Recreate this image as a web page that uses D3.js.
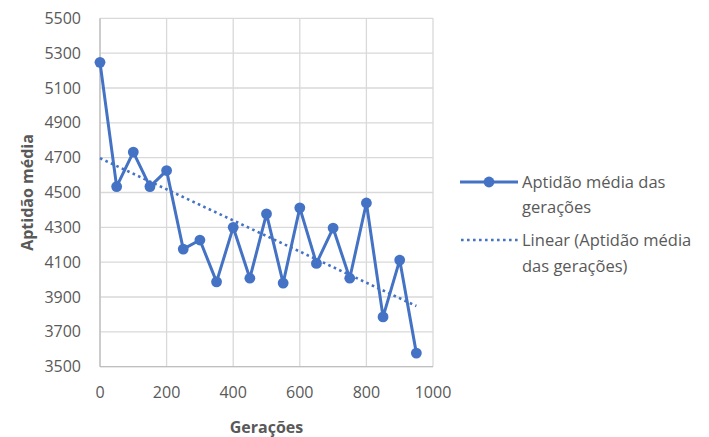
<!DOCTYPE html>
<html><head><meta charset="utf-8">
<script src="https://cdn.jsdelivr.net/npm/d3@7"></script>
<style>
html,body{margin:0;padding:0;background:#fff;}
svg{display:block;font-family:"Open Sans",sans-serif;}
</style></head>
<body>
<svg id="chart" width="709" height="437"></svg>
<script>
const generations = [0,50,100,150,200,250,300,350,400,450,500,550,600,650,700,750,800,850,900,950];
const fitness = [5247,4534,4732,4534,4626,4175,4227,3987,4300,4008,4377,3980,4412,4093,4296,4008,4440,3786,4112,3578];
const xTicks = [0,200,400,600,800,1000];
const yTicks = [3500,3700,3900,4100,4300,4500,4700,4900,5100,5300,5500];
const seriesName = ["Aptidão média das","gerações"];
const trendName = ["Linear (Aptidão média","das gerações)"];
const xTitle = "Gerações";
const yTitle = "Aptidão média";

const svg = d3.select("#chart");
const x = d3.scaleLinear().domain([0,1000]).range([100,433]);
const y = d3.scaleLinear().domain([3500,5500]).range([366.7,18.3]);
const blue = "#4472c4", grid = "#d9d9d9", txt = "#595959";
const dots = "2.6 3.4";

// gridlines
svg.append("g").selectAll("line").data(yTicks).join("line")
  .attr("x1",x(0)).attr("x2",x(1000)).attr("y1",d=>y(d)).attr("y2",d=>y(d))
  .attr("stroke",grid).attr("stroke-width",1.3);
svg.append("g").selectAll("line").data(xTicks).join("line")
  .attr("y1",y(3500)).attr("y2",y(5500)).attr("x1",d=>x(d)).attr("x2",d=>x(d))
  .attr("stroke",grid).attr("stroke-width",1.3);
// axis lines
svg.append("line").attr("x1",x(0)).attr("x2",x(1000)).attr("y1",y(3500)).attr("y2",y(3500)).attr("stroke","#bfbfbf").attr("stroke-width",1.3);
svg.append("line").attr("x1",x(0)).attr("x2",x(0)).attr("y1",y(3500)).attr("y2",y(5500)).attr("stroke","#bfbfbf").attr("stroke-width",1.3);

// tick labels
svg.append("g").selectAll("text").data(yTicks).join("text")
  .attr("x",81).attr("y",d=>y(d)).attr("dy","0.35em").attr("text-anchor","end")
  .attr("fill",txt).attr("font-size",16).text(d=>d);
svg.append("g").selectAll("text").data(xTicks).join("text")
  .attr("x",d=>x(d)).attr("y",392).attr("dy","0.35em").attr("text-anchor","middle")
  .attr("fill",txt).attr("font-size",16).text(d=>d);

// axis titles
svg.append("text").attr("x",x(500)).attr("y",427).attr("dy","0.35em").attr("text-anchor","middle")
  .attr("fill",txt).attr("font-size",16).attr("font-weight","bold").text(xTitle);
svg.append("text").attr("transform",`translate(27,${(y(3500)+y(5500))/2}) rotate(-90)`)
  .attr("dy","0.35em").attr("text-anchor","middle")
  .attr("fill",txt).attr("font-size",16).attr("font-weight","bold").text(yTitle);

// linear trend (least squares)
const n = generations.length;
const mx = d3.mean(generations), my = d3.mean(fitness);
let sxy=0,sxx=0;
for(let i=0;i<n;i++){sxy+=(generations[i]-mx)*(fitness[i]-my);sxx+=(generations[i]-mx)**2;}
const slope = sxy/sxx, icpt = my - slope*mx;
const x0 = generations[0], x1 = generations[n-1];
svg.append("line").attr("x1",x(x0)).attr("y1",y(icpt+slope*x0)).attr("x2",x(x1)).attr("y2",y(icpt+slope*x1))
  .attr("stroke",blue).attr("stroke-width",2.6).attr("stroke-dasharray",dots);

// series
const pts = generations.map((g,i)=>[g,fitness[i]]);
svg.append("path").datum(pts).attr("fill","none").attr("stroke",blue).attr("stroke-width",3)
  .attr("stroke-linejoin","round")
  .attr("d",d3.line().x(d=>x(d[0])).y(d=>y(d[1])));
svg.append("g").selectAll("circle").data(pts).join("circle")
  .attr("cx",d=>x(d[0])).attr("cy",d=>y(d[1])).attr("r",5.4).attr("fill",blue);

// legend
const lg = svg.append("g");
lg.append("line").attr("x1",460).attr("x2",518).attr("y1",182).attr("y2",182).attr("stroke",blue).attr("stroke-width",3);
lg.append("circle").attr("cx",489).attr("cy",182).attr("r",5.4).attr("fill",blue);
seriesName.forEach((t,i)=>lg.append("text").attr("x",522).attr("y",182+i*25).attr("dy","0.35em")
  .attr("fill",txt).attr("font-size",16.5).text(t));
lg.append("line").attr("x1",461).attr("x2",518).attr("y1",240).attr("y2",240).attr("stroke",blue).attr("stroke-width",2.6)
  .attr("stroke-dasharray",dots);
trendName.forEach((t,i)=>lg.append("text").attr("x",522).attr("y",240+i*26).attr("dy","0.35em")
  .attr("fill",txt).attr("font-size",16.5).text(t));
</script>
</body></html>
